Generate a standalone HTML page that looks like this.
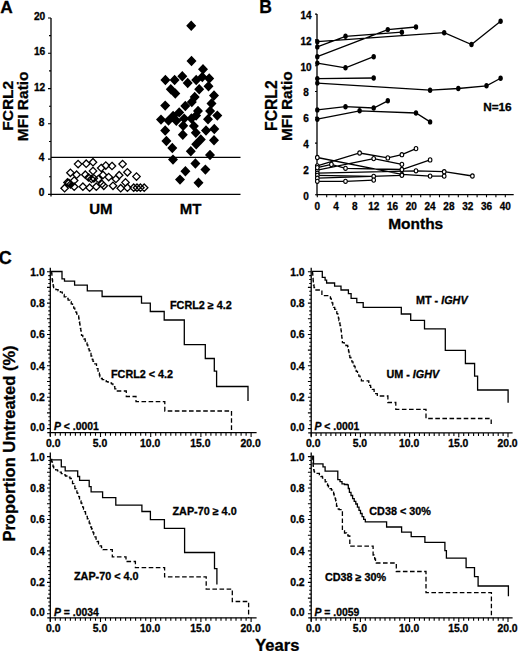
<!DOCTYPE html>
<html><head><meta charset="utf-8"><style>
html,body{margin:0;padding:0;background:#fff;}
svg{display:block;}
text{font-family:"Liberation Sans", sans-serif;fill:#000;stroke:#000;stroke-width:0.3px;}
</style></head><body>
<svg width="520" height="651" viewBox="0 0 520 651">
<rect width="520" height="651" fill="#fff"/>
<text x="0.2" y="12.7" font-size="17.3" font-weight="bold" font-style="normal" text-anchor="start" >A</text>
<text transform="translate(13.3,105.8) rotate(-90)" font-size="15.5" font-weight="bold" text-anchor="middle">FCRL2</text>
<text transform="translate(28.4,106.3) rotate(-90)" font-size="15.5" font-weight="bold" text-anchor="middle">MFI Ratio</text>
<path d="M51.0,18.0 V196.4 M50.4,194.4 H240.5" stroke="#000" stroke-width="1.3" fill="none"/>
<path d="M48.0,194.4 H51.0 M49.0,176.8 H51.0 M48.0,159.1 H51.0 M49.0,141.5 H51.0 M48.0,123.8 H51.0 M49.0,106.2 H51.0 M48.0,88.6 H51.0 M49.0,70.9 H51.0 M48.0,53.3 H51.0 M49.0,35.6 H51.0 M48.0,18.0 H51.0" stroke="#000" stroke-width="1.1" fill="none"/>
<text x="44.4" y="196.3" font-size="10.2" font-weight="bold" font-style="normal" text-anchor="end" >0</text>
<text x="44.4" y="161.0" font-size="10.2" font-weight="bold" font-style="normal" text-anchor="end" >4</text>
<text x="44.4" y="125.7" font-size="10.2" font-weight="bold" font-style="normal" text-anchor="end" >8</text>
<text x="45.3" y="90.5" font-size="10.2" font-weight="bold" font-style="normal" text-anchor="end" >12</text>
<text x="45.3" y="55.2" font-size="10.2" font-weight="bold" font-style="normal" text-anchor="end" >16</text>
<text x="45.3" y="19.9" font-size="10.2" font-weight="bold" font-style="normal" text-anchor="end" >20</text>
<path d="M51.0,157.4 H240.5" stroke="#000" stroke-width="1.3" fill="none"/>
<text x="100.8" y="213.8" font-size="15" font-weight="bold" font-style="normal" text-anchor="middle" >UM</text>
<text x="190.6" y="214.2" font-size="15" font-weight="bold" font-style="normal" text-anchor="middle" >MT</text>
<path d="M78.1,160.4 L81.8,164.1 L78.1,167.8 L74.4,164.1 Z M86.2,160.0 L90.0,163.7 L86.2,167.4 L82.5,163.7 Z M93.0,158.5 L96.7,162.2 L93.0,165.9 L89.3,162.2 Z M70.4,169.1 L74.1,172.8 L70.4,176.5 L66.7,172.8 Z M76.6,171.0 L80.3,174.7 L76.6,178.4 L72.9,174.7 Z M85.3,171.0 L89.0,174.7 L85.3,178.4 L81.6,174.7 Z M93.0,167.2 L96.7,170.9 L93.0,174.6 L89.3,170.9 Z M101.2,164.3 L104.9,168.0 L101.2,171.7 L97.5,168.0 Z M74.2,176.8 L77.9,180.5 L74.2,184.2 L70.5,180.5 Z M64.6,184.5 L68.3,188.2 L64.6,191.9 L60.9,188.2 Z M82.9,183.0 L86.6,186.7 L82.9,190.4 L79.2,186.7 Z M89.6,184.0 L93.3,187.7 L89.6,191.4 L85.9,187.7 Z M96.3,183.0 L100.0,186.7 L96.3,190.4 L92.6,186.7 Z M67.5,178.7 L71.2,182.4 L67.5,186.1 L63.8,182.4 Z M74.2,183.0 L77.9,186.7 L74.2,190.4 L70.5,186.7 Z M91.5,175.3 L95.2,179.0 L91.5,182.7 L87.8,179.0 Z M98.3,175.3 L102.0,179.0 L98.3,182.7 L94.6,179.0 Z M102.0,180.3 L105.7,184.0 L102.0,187.7 L98.3,184.0 Z M103.0,171.3 L106.7,175.0 L103.0,178.7 L99.3,175.0 Z M105.8,161.9 L109.5,165.6 L105.8,169.3 L102.1,165.6 Z M112.0,162.3 L115.7,166.0 L112.0,169.7 L108.3,166.0 Z M122.6,160.4 L126.3,164.1 L122.6,167.8 L118.9,164.1 Z M127.4,168.6 L131.1,172.3 L127.4,176.0 L123.7,172.3 Z M136.5,172.9 L140.2,176.6 L136.5,180.3 L132.8,176.6 Z M108.7,173.4 L112.4,177.1 L108.7,180.8 L105.0,177.1 Z M119.2,171.5 L122.9,175.2 L119.2,178.9 L115.5,175.2 Z M115.9,175.3 L119.6,179.0 L115.9,182.7 L112.2,179.0 Z M125.5,178.7 L129.2,182.4 L125.5,186.1 L121.8,182.4 Z M103.8,182.1 L107.5,185.8 L103.8,189.5 L100.1,185.8 Z M113.0,182.1 L116.7,185.8 L113.0,189.5 L109.3,185.8 Z M120.7,184.5 L124.4,188.2 L120.7,191.9 L117.0,188.2 Z M127.4,184.0 L131.1,187.7 L127.4,191.4 L123.7,187.7 Z M133.7,184.0 L137.4,187.7 L133.7,191.4 L130.0,187.7 Z M137.0,184.0 L140.7,187.7 L137.0,191.4 L133.3,187.7 Z M140.4,184.0 L144.1,187.7 L140.4,191.4 L136.7,187.7 Z M144.2,184.0 L147.9,187.7 L144.2,191.4 L140.5,187.7 Z M88.5,173.8 L92.2,177.5 L88.5,181.2 L84.8,177.5 Z M70.5,180.8 L74.2,184.5 L70.5,188.2 L66.8,184.5 Z M68.8,179.3 L72.5,183.0 L68.8,186.7 L65.1,183.0 Z M93.8,174.6 L97.5,178.3 L93.8,182.0 L90.1,178.3 Z" fill="#fff" stroke="#000" stroke-width="1.3"/>
<path d="M191.2,20.6 L196.2,25.8 L191.2,31.0 L186.2,25.8 Z M191.5,55.8 L196.5,61.0 L191.5,66.2 L186.5,61.0 Z M203.0,64.1 L208.0,69.3 L203.0,74.5 L198.0,69.3 Z M165.4,74.8 L170.4,80.0 L165.4,85.2 L160.4,80.0 Z M174.6,74.8 L179.6,80.0 L174.6,85.2 L169.6,80.0 Z M182.3,71.0 L187.3,76.2 L182.3,81.4 L177.3,76.2 Z M187.7,77.8 L192.7,83.0 L187.7,88.2 L182.7,83.0 Z M196.2,74.8 L201.2,80.0 L196.2,85.2 L191.2,80.0 Z M202.3,71.8 L207.3,77.0 L202.3,82.2 L197.3,77.0 Z M209.2,73.3 L214.2,78.5 L209.2,83.7 L204.2,78.5 Z M170.8,84.0 L175.8,89.2 L170.8,94.4 L165.8,89.2 Z M175.3,88.3 L180.3,93.5 L175.3,98.7 L170.3,93.5 Z M199.2,84.0 L204.2,89.2 L199.2,94.4 L194.2,89.2 Z M208.5,81.0 L213.5,86.2 L208.5,91.4 L203.5,86.2 Z M214.0,90.3 L219.0,95.5 L214.0,100.7 L209.0,95.5 Z M194.7,91.8 L199.7,97.0 L194.7,102.2 L189.7,97.0 Z M191.8,96.8 L196.8,102.0 L191.8,107.2 L186.8,102.0 Z M185.3,100.8 L190.3,106.0 L185.3,111.2 L180.3,106.0 Z M165.2,100.4 L170.2,105.6 L165.2,110.8 L160.2,105.6 Z M211.5,98.3 L216.5,103.5 L211.5,108.7 L206.5,103.5 Z M198.0,105.8 L203.0,111.0 L198.0,116.2 L193.0,111.0 Z M210.1,105.8 L215.1,111.0 L210.1,116.2 L205.1,111.0 Z M217.3,110.4 L222.3,115.6 L217.3,120.8 L212.3,115.6 Z M179.2,107.2 L184.2,112.4 L179.2,117.6 L174.2,112.4 Z M173.1,110.8 L178.1,116.0 L173.1,121.2 L168.1,116.0 Z M161.0,114.4 L166.0,119.6 L161.0,124.8 L156.0,119.6 Z M168.5,115.4 L173.5,120.6 L168.5,125.8 L163.5,120.6 Z M176.3,115.5 L181.3,120.7 L176.3,125.9 L171.3,120.7 Z M184.2,113.4 L189.2,118.6 L184.2,123.8 L179.2,118.6 Z M191.4,113.3 L196.4,118.5 L191.4,123.7 L186.4,118.5 Z M196.1,110.4 L201.1,115.6 L196.1,120.8 L191.1,115.6 Z M208.0,114.0 L213.0,119.2 L208.0,124.4 L203.0,119.2 Z M183.2,120.5 L188.2,125.7 L183.2,130.9 L178.2,125.7 Z M193.9,120.9 L198.9,126.1 L193.9,131.3 L188.9,126.1 Z M165.2,125.3 L170.2,130.5 L165.2,135.7 L160.2,130.5 Z M182.8,129.6 L187.8,134.8 L182.8,140.0 L177.8,134.8 Z M195.8,127.5 L200.8,132.7 L195.8,137.9 L190.8,132.7 Z M206.0,125.3 L211.0,130.5 L206.0,135.7 L201.0,130.5 Z M214.3,123.8 L219.3,129.0 L214.3,134.2 L209.3,129.0 Z M166.4,135.8 L171.4,141.0 L166.4,146.2 L161.4,141.0 Z M200.8,134.3 L205.8,139.5 L200.8,144.7 L195.8,139.5 Z M214.0,135.1 L219.0,140.3 L214.0,145.5 L209.0,140.3 Z M196.2,139.0 L201.2,144.2 L196.2,149.4 L191.2,144.2 Z M172.3,142.8 L177.3,148.0 L172.3,153.2 L167.3,148.0 Z M190.8,146.0 L195.8,151.2 L190.8,156.4 L185.8,151.2 Z M210.0,149.8 L215.0,155.0 L210.0,160.2 L205.0,155.0 Z M173.0,154.4 L178.0,159.6 L173.0,164.8 L168.0,159.6 Z M195.4,158.3 L200.4,163.5 L195.4,168.7 L190.4,163.5 Z M185.4,166.0 L190.4,171.2 L185.4,176.4 L180.4,171.2 Z M205.4,164.4 L210.4,169.6 L205.4,174.8 L200.4,169.6 Z M180.0,174.4 L185.0,179.6 L180.0,184.8 L175.0,179.6 Z M198.5,177.5 L203.5,182.7 L198.5,187.9 L193.5,182.7 Z" fill="#000"/>
<text x="259.2" y="12.7" font-size="17.5" font-weight="bold" font-style="normal" text-anchor="start" >B</text>
<text transform="translate(277.4,105.6) rotate(-90)" font-size="15.7" font-weight="bold" text-anchor="middle">FCRL2</text>
<text transform="translate(292.1,106.2) rotate(-90)" font-size="15.5" font-weight="bold" text-anchor="middle">MFI Ratio</text>
<path d="M317.0,14.099999999999994 V195.5 M316.5,194.7 H513.7" stroke="#000" stroke-width="1.3" fill="none"/>
<path d="M315.0,194.7 H317.0 M315.0,168.9 H317.0 M315.0,143.1 H317.0 M315.0,117.3 H317.0 M315.0,91.5 H317.0 M315.0,65.7 H317.0 M315.0,39.9 H317.0 M315.0,14.1 H317.0 M317.3,194.7 V197.3 M326.7,194.7 V197.3 M336.1,194.7 V197.3 M345.5,194.7 V197.3 M354.9,194.7 V197.3 M364.3,194.7 V197.3 M373.7,194.7 V197.3 M383.1,194.7 V197.3 M392.5,194.7 V197.3 M401.9,194.7 V197.3 M411.3,194.7 V197.3 M420.7,194.7 V197.3 M430.1,194.7 V197.3 M439.5,194.7 V197.3 M448.9,194.7 V197.3 M458.3,194.7 V197.3 M467.7,194.7 V197.3 M477.1,194.7 V197.3 M486.5,194.7 V197.3 M495.9,194.7 V197.3 M505.3,194.7 V197.3" stroke="#000" stroke-width="1.1" fill="none"/>
<text x="306" y="199.5" font-size="10" font-weight="bold" font-style="normal" text-anchor="middle" >0</text>
<text x="306" y="173.7" font-size="10" font-weight="bold" font-style="normal" text-anchor="middle" >2</text>
<text x="306" y="147.9" font-size="10" font-weight="bold" font-style="normal" text-anchor="middle" >4</text>
<text x="306" y="122.1" font-size="10" font-weight="bold" font-style="normal" text-anchor="middle" >6</text>
<text x="306" y="96.3" font-size="10" font-weight="bold" font-style="normal" text-anchor="middle" >8</text>
<text x="306" y="70.5" font-size="10" font-weight="bold" font-style="normal" text-anchor="middle" >10</text>
<text x="306" y="44.7" font-size="10" font-weight="bold" font-style="normal" text-anchor="middle" >12</text>
<text x="306" y="18.9" font-size="10" font-weight="bold" font-style="normal" text-anchor="middle" >14</text>
<text x="317.3" y="209.5" font-size="10" font-weight="bold" font-style="normal" text-anchor="middle" >0</text>
<text x="336.1" y="209.5" font-size="10" font-weight="bold" font-style="normal" text-anchor="middle" >4</text>
<text x="354.9" y="209.5" font-size="10" font-weight="bold" font-style="normal" text-anchor="middle" >8</text>
<text x="373.7" y="209.5" font-size="10" font-weight="bold" font-style="normal" text-anchor="middle" >12</text>
<text x="392.5" y="209.5" font-size="10" font-weight="bold" font-style="normal" text-anchor="middle" >16</text>
<text x="411.3" y="209.5" font-size="10" font-weight="bold" font-style="normal" text-anchor="middle" >20</text>
<text x="430.1" y="209.5" font-size="10" font-weight="bold" font-style="normal" text-anchor="middle" >24</text>
<text x="448.9" y="209.5" font-size="10" font-weight="bold" font-style="normal" text-anchor="middle" >28</text>
<text x="467.7" y="209.5" font-size="10" font-weight="bold" font-style="normal" text-anchor="middle" >32</text>
<text x="486.5" y="209.5" font-size="10" font-weight="bold" font-style="normal" text-anchor="middle" >36</text>
<text x="505.3" y="209.5" font-size="10" font-weight="bold" font-style="normal" text-anchor="middle" >40</text>
<text x="415.7" y="229.3" font-size="15.5" font-weight="bold" font-style="normal" text-anchor="middle" >Months</text>
<text x="497.4" y="110.9" font-size="11.8" font-weight="bold" font-style="normal" text-anchor="middle" >N=16</text>
<path d="M317.3,41.7 L444.2,32.7 L471.5,44.5 L500.6,21.2 M317.3,46.9 L345.5,36.3 L401.9,32.2 M317.3,56.7 L387.8,29.6 L416.0,27.0 M317.3,63.1 L345.5,67.8 L373.7,56.7 M317.3,78.6 L373.7,78.0 M317.3,83.1 L430.1,90.2 L458.3,88.5 L486.5,85.8 L500.6,78.3 M317.3,109.9 L345.5,106.7 L373.7,108.0 L387.8,100.8 M317.3,119.2 L359.6,110.8 L416.0,113.0 L430.1,121.9 M317.3,165.9 L359.6,153.0 L387.8,157.9 L401.9,154.7 L416.0,148.6 M317.3,170.1 L373.7,158.6 L401.9,164.3 M317.3,157.5 L401.9,174.3 L430.1,176.1 L444.2,176.1 M317.3,167.6 L331.4,164.4 L345.5,168.3 L401.9,169.5 L430.1,159.9 M317.3,173.2 L416.0,170.8 L444.2,171.7 L472.4,176.0 M317.3,175.3 L373.7,176.3 M317.3,178.2 L401.9,175.3 M317.3,181.3 L345.5,181.3 L373.7,180.1" stroke="#000" stroke-width="1.3" fill="none"/>
<ellipse cx="317.3" cy="41.7" rx="2.2" ry="2.7" fill="#000"/><ellipse cx="444.2" cy="32.7" rx="2.2" ry="2.7" fill="#000"/><ellipse cx="471.5" cy="44.5" rx="2.2" ry="2.7" fill="#000"/><ellipse cx="500.6" cy="21.2" rx="2.2" ry="2.7" fill="#000"/><ellipse cx="317.3" cy="46.9" rx="2.2" ry="2.7" fill="#000"/><ellipse cx="345.5" cy="36.3" rx="2.2" ry="2.7" fill="#000"/><ellipse cx="401.9" cy="32.2" rx="2.2" ry="2.7" fill="#000"/><ellipse cx="317.3" cy="56.7" rx="2.2" ry="2.7" fill="#000"/><ellipse cx="387.8" cy="29.6" rx="2.2" ry="2.7" fill="#000"/><ellipse cx="416.0" cy="27.0" rx="2.2" ry="2.7" fill="#000"/><ellipse cx="317.3" cy="63.1" rx="2.2" ry="2.7" fill="#000"/><ellipse cx="345.5" cy="67.8" rx="2.2" ry="2.7" fill="#000"/><ellipse cx="373.7" cy="56.7" rx="2.2" ry="2.7" fill="#000"/><ellipse cx="317.3" cy="78.6" rx="2.2" ry="2.7" fill="#000"/><ellipse cx="373.7" cy="78.0" rx="2.2" ry="2.7" fill="#000"/><ellipse cx="317.3" cy="83.1" rx="2.2" ry="2.7" fill="#000"/><ellipse cx="430.1" cy="90.2" rx="2.2" ry="2.7" fill="#000"/><ellipse cx="458.3" cy="88.5" rx="2.2" ry="2.7" fill="#000"/><ellipse cx="486.5" cy="85.8" rx="2.2" ry="2.7" fill="#000"/><ellipse cx="500.6" cy="78.3" rx="2.2" ry="2.7" fill="#000"/><ellipse cx="317.3" cy="109.9" rx="2.2" ry="2.7" fill="#000"/><ellipse cx="345.5" cy="106.7" rx="2.2" ry="2.7" fill="#000"/><ellipse cx="373.7" cy="108.0" rx="2.2" ry="2.7" fill="#000"/><ellipse cx="387.8" cy="100.8" rx="2.2" ry="2.7" fill="#000"/><ellipse cx="317.3" cy="119.2" rx="2.2" ry="2.7" fill="#000"/><ellipse cx="359.6" cy="110.8" rx="2.2" ry="2.7" fill="#000"/><ellipse cx="416.0" cy="113.0" rx="2.2" ry="2.7" fill="#000"/><ellipse cx="430.1" cy="121.9" rx="2.2" ry="2.7" fill="#000"/>
<ellipse cx="317.3" cy="165.9" rx="1.8" ry="2.1" fill="#fff" stroke="#000" stroke-width="1.1"/><ellipse cx="359.6" cy="153.0" rx="1.8" ry="2.1" fill="#fff" stroke="#000" stroke-width="1.1"/><ellipse cx="387.8" cy="157.9" rx="1.8" ry="2.1" fill="#fff" stroke="#000" stroke-width="1.1"/><ellipse cx="401.9" cy="154.7" rx="1.8" ry="2.1" fill="#fff" stroke="#000" stroke-width="1.1"/><ellipse cx="416.0" cy="148.6" rx="1.8" ry="2.1" fill="#fff" stroke="#000" stroke-width="1.1"/><ellipse cx="317.3" cy="170.1" rx="1.8" ry="2.1" fill="#fff" stroke="#000" stroke-width="1.1"/><ellipse cx="373.7" cy="158.6" rx="1.8" ry="2.1" fill="#fff" stroke="#000" stroke-width="1.1"/><ellipse cx="401.9" cy="164.3" rx="1.8" ry="2.1" fill="#fff" stroke="#000" stroke-width="1.1"/><ellipse cx="317.3" cy="157.5" rx="1.8" ry="2.1" fill="#fff" stroke="#000" stroke-width="1.1"/><ellipse cx="401.9" cy="174.3" rx="1.8" ry="2.1" fill="#fff" stroke="#000" stroke-width="1.1"/><ellipse cx="430.1" cy="176.1" rx="1.8" ry="2.1" fill="#fff" stroke="#000" stroke-width="1.1"/><ellipse cx="444.2" cy="176.1" rx="1.8" ry="2.1" fill="#fff" stroke="#000" stroke-width="1.1"/><ellipse cx="317.3" cy="167.6" rx="1.8" ry="2.1" fill="#fff" stroke="#000" stroke-width="1.1"/><ellipse cx="331.4" cy="164.4" rx="1.8" ry="2.1" fill="#fff" stroke="#000" stroke-width="1.1"/><ellipse cx="345.5" cy="168.3" rx="1.8" ry="2.1" fill="#fff" stroke="#000" stroke-width="1.1"/><ellipse cx="401.9" cy="169.5" rx="1.8" ry="2.1" fill="#fff" stroke="#000" stroke-width="1.1"/><ellipse cx="430.1" cy="159.9" rx="1.8" ry="2.1" fill="#fff" stroke="#000" stroke-width="1.1"/><ellipse cx="317.3" cy="173.2" rx="1.8" ry="2.1" fill="#fff" stroke="#000" stroke-width="1.1"/><ellipse cx="416.0" cy="170.8" rx="1.8" ry="2.1" fill="#fff" stroke="#000" stroke-width="1.1"/><ellipse cx="444.2" cy="171.7" rx="1.8" ry="2.1" fill="#fff" stroke="#000" stroke-width="1.1"/><ellipse cx="472.4" cy="176.0" rx="1.8" ry="2.1" fill="#fff" stroke="#000" stroke-width="1.1"/><ellipse cx="317.3" cy="175.3" rx="1.8" ry="2.1" fill="#fff" stroke="#000" stroke-width="1.1"/><ellipse cx="373.7" cy="176.3" rx="1.8" ry="2.1" fill="#fff" stroke="#000" stroke-width="1.1"/><ellipse cx="317.3" cy="178.2" rx="1.8" ry="2.1" fill="#fff" stroke="#000" stroke-width="1.1"/><ellipse cx="401.9" cy="175.3" rx="1.8" ry="2.1" fill="#fff" stroke="#000" stroke-width="1.1"/><ellipse cx="317.3" cy="181.3" rx="1.8" ry="2.1" fill="#fff" stroke="#000" stroke-width="1.1"/><ellipse cx="345.5" cy="181.3" rx="1.8" ry="2.1" fill="#fff" stroke="#000" stroke-width="1.1"/><ellipse cx="373.7" cy="180.1" rx="1.8" ry="2.1" fill="#fff" stroke="#000" stroke-width="1.1"/>
<text x="-1.2" y="264.4" font-size="18" font-weight="bold" font-style="normal" text-anchor="start" >C</text>
<text transform="translate(15.2,443.5) rotate(-90)" font-size="16.5" font-weight="bold" text-anchor="middle">Proportion Untreated (%)</text>
<path d="M50.3,267.7 V436.2 M47.3,432.7 H256.6" stroke="#000" stroke-width="1.3" fill="none"/>
<path d="M47.0,428.6 H50.3 M48.3,424.7 H50.3 M48.3,420.8 H50.3 M48.3,416.8 H50.3 M47.0,412.9 H50.3 M48.3,409.0 H50.3 M48.3,405.1 H50.3 M48.3,401.1 H50.3 M47.0,397.2 H50.3 M48.3,393.3 H50.3 M48.3,389.4 H50.3 M48.3,385.5 H50.3 M47.0,381.5 H50.3 M48.3,377.6 H50.3 M48.3,373.7 H50.3 M48.3,369.8 H50.3 M47.0,365.8 H50.3 M48.3,361.9 H50.3 M48.3,358.0 H50.3 M48.3,354.1 H50.3 M47.0,350.1 H50.3 M48.3,346.2 H50.3 M48.3,342.3 H50.3 M48.3,338.4 H50.3 M47.0,334.5 H50.3 M48.3,330.5 H50.3 M48.3,326.6 H50.3 M48.3,322.7 H50.3 M47.0,318.8 H50.3 M48.3,314.8 H50.3 M48.3,310.9 H50.3 M48.3,307.0 H50.3 M47.0,303.1 H50.3 M48.3,299.2 H50.3 M48.3,295.2 H50.3 M48.3,291.3 H50.3 M47.0,287.4 H50.3 M48.3,283.5 H50.3 M48.3,279.5 H50.3 M48.3,275.6 H50.3 M47.0,271.7 H50.3 M50.3,432.7 V437.0 M55.3,432.7 V435.7 M60.3,432.7 V435.7 M65.4,432.7 V435.7 M70.4,432.7 V435.7 M75.4,432.7 V435.7 M80.4,432.7 V435.7 M85.4,432.7 V435.7 M90.5,432.7 V435.7 M95.5,432.7 V435.7 M100.5,432.7 V437.0 M105.5,432.7 V435.7 M110.5,432.7 V435.7 M115.6,432.7 V435.7 M120.6,432.7 V435.7 M125.6,432.7 V435.7 M130.6,432.7 V435.7 M135.6,432.7 V435.7 M140.7,432.7 V435.7 M145.7,432.7 V435.7 M150.7,432.7 V437.0 M155.7,432.7 V435.7 M160.7,432.7 V435.7 M165.8,432.7 V435.7 M170.8,432.7 V435.7 M175.8,432.7 V435.7 M180.8,432.7 V435.7 M185.8,432.7 V435.7 M190.9,432.7 V435.7 M195.9,432.7 V435.7 M200.9,432.7 V437.0 M205.9,432.7 V435.7 M210.9,432.7 V435.7 M216.0,432.7 V435.7 M221.0,432.7 V435.7 M226.0,432.7 V435.7 M231.0,432.7 V435.7 M236.0,432.7 V435.7 M241.1,432.7 V435.7 M246.1,432.7 V435.7 M251.1,432.7 V437.0" stroke="#000" stroke-width="1.1" fill="none"/>
<text x="44.8" y="431.1" font-size="10.4" font-weight="bold" font-style="normal" text-anchor="end" >0.0</text>
<text x="44.8" y="401.1" font-size="10.4" font-weight="bold" font-style="normal" text-anchor="end" >0.2</text>
<text x="44.8" y="369.7" font-size="10.4" font-weight="bold" font-style="normal" text-anchor="end" >0.4</text>
<text x="44.8" y="338.4" font-size="10.4" font-weight="bold" font-style="normal" text-anchor="end" >0.6</text>
<text x="44.8" y="307.0" font-size="10.4" font-weight="bold" font-style="normal" text-anchor="end" >0.8</text>
<text x="44.8" y="275.6" font-size="10.4" font-weight="bold" font-style="normal" text-anchor="end" >1.0</text>
<text x="53.3" y="446.6" font-size="10.4" font-weight="bold" font-style="normal" text-anchor="middle" >0.0</text>
<text x="100.0" y="446.6" font-size="10.4" font-weight="bold" font-style="normal" text-anchor="middle" >5.0</text>
<text x="150.2" y="446.6" font-size="10.4" font-weight="bold" font-style="normal" text-anchor="middle" >10.0</text>
<text x="200.4" y="446.6" font-size="10.4" font-weight="bold" font-style="normal" text-anchor="middle" >15.0</text>
<text x="250.6" y="446.6" font-size="10.4" font-weight="bold" font-style="normal" text-anchor="middle" >20.0</text>
<path d="M311.2,267.7 V436.4 M308.2,432.9 H512.6" stroke="#000" stroke-width="1.3" fill="none"/>
<path d="M307.9,428.6 H311.2 M309.2,424.7 H311.2 M309.2,420.8 H311.2 M309.2,416.8 H311.2 M307.9,412.9 H311.2 M309.2,409.0 H311.2 M309.2,405.1 H311.2 M309.2,401.1 H311.2 M307.9,397.2 H311.2 M309.2,393.3 H311.2 M309.2,389.4 H311.2 M309.2,385.5 H311.2 M307.9,381.5 H311.2 M309.2,377.6 H311.2 M309.2,373.7 H311.2 M309.2,369.8 H311.2 M307.9,365.8 H311.2 M309.2,361.9 H311.2 M309.2,358.0 H311.2 M309.2,354.1 H311.2 M307.9,350.1 H311.2 M309.2,346.2 H311.2 M309.2,342.3 H311.2 M309.2,338.4 H311.2 M307.9,334.5 H311.2 M309.2,330.5 H311.2 M309.2,326.6 H311.2 M309.2,322.7 H311.2 M307.9,318.8 H311.2 M309.2,314.8 H311.2 M309.2,310.9 H311.2 M309.2,307.0 H311.2 M307.9,303.1 H311.2 M309.2,299.2 H311.2 M309.2,295.2 H311.2 M309.2,291.3 H311.2 M307.9,287.4 H311.2 M309.2,283.5 H311.2 M309.2,279.5 H311.2 M309.2,275.6 H311.2 M307.9,271.7 H311.2 M311.2,432.9 V437.2 M316.1,432.9 V435.9 M321.0,432.9 V435.9 M326.0,432.9 V435.9 M330.9,432.9 V435.9 M335.8,432.9 V435.9 M340.7,432.9 V435.9 M345.6,432.9 V435.9 M350.6,432.9 V435.9 M355.5,432.9 V435.9 M360.4,432.9 V437.2 M365.3,432.9 V435.9 M370.2,432.9 V435.9 M375.2,432.9 V435.9 M380.1,432.9 V435.9 M385.0,432.9 V435.9 M389.9,432.9 V435.9 M394.8,432.9 V435.9 M399.8,432.9 V435.9 M404.7,432.9 V435.9 M409.6,432.9 V437.2 M414.5,432.9 V435.9 M419.4,432.9 V435.9 M424.4,432.9 V435.9 M429.3,432.9 V435.9 M434.2,432.9 V435.9 M439.1,432.9 V435.9 M444.0,432.9 V435.9 M449.0,432.9 V435.9 M453.9,432.9 V435.9 M458.8,432.9 V437.2 M463.7,432.9 V435.9 M468.6,432.9 V435.9 M473.6,432.9 V435.9 M478.5,432.9 V435.9 M483.4,432.9 V435.9 M488.3,432.9 V435.9 M493.2,432.9 V435.9 M498.2,432.9 V435.9 M503.1,432.9 V435.9 M508.0,432.9 V437.2" stroke="#000" stroke-width="1.1" fill="none"/>
<text x="304.6" y="431.1" font-size="10.4" font-weight="bold" font-style="normal" text-anchor="end" >0.0</text>
<text x="304.6" y="401.1" font-size="10.4" font-weight="bold" font-style="normal" text-anchor="end" >0.2</text>
<text x="304.6" y="369.7" font-size="10.4" font-weight="bold" font-style="normal" text-anchor="end" >0.4</text>
<text x="304.6" y="338.4" font-size="10.4" font-weight="bold" font-style="normal" text-anchor="end" >0.6</text>
<text x="304.6" y="307.0" font-size="10.4" font-weight="bold" font-style="normal" text-anchor="end" >0.8</text>
<text x="304.6" y="275.6" font-size="10.4" font-weight="bold" font-style="normal" text-anchor="end" >1.0</text>
<text x="313.2" y="446.6" font-size="10.4" font-weight="bold" font-style="normal" text-anchor="middle" >0.0</text>
<text x="359.9" y="446.6" font-size="10.4" font-weight="bold" font-style="normal" text-anchor="middle" >5.0</text>
<text x="409.1" y="446.6" font-size="10.4" font-weight="bold" font-style="normal" text-anchor="middle" >10.0</text>
<text x="458.3" y="446.6" font-size="10.4" font-weight="bold" font-style="normal" text-anchor="middle" >15.0</text>
<text x="507.5" y="446.6" font-size="10.4" font-weight="bold" font-style="normal" text-anchor="middle" >20.0</text>
<path d="M50.3,452.6 V621.3 M47.3,617.8 H256.6" stroke="#000" stroke-width="1.3" fill="none"/>
<path d="M47.0,613.8 H50.3 M48.3,609.9 H50.3 M48.3,605.9 H50.3 M48.3,602.0 H50.3 M47.0,598.1 H50.3 M48.3,594.1 H50.3 M48.3,590.2 H50.3 M48.3,586.3 H50.3 M47.0,582.4 H50.3 M48.3,578.4 H50.3 M48.3,574.5 H50.3 M48.3,570.6 H50.3 M47.0,566.6 H50.3 M48.3,562.7 H50.3 M48.3,558.8 H50.3 M48.3,554.9 H50.3 M47.0,550.9 H50.3 M48.3,547.0 H50.3 M48.3,543.1 H50.3 M48.3,539.1 H50.3 M47.0,535.2 H50.3 M48.3,531.3 H50.3 M48.3,527.3 H50.3 M48.3,523.4 H50.3 M47.0,519.5 H50.3 M48.3,515.5 H50.3 M48.3,511.6 H50.3 M48.3,507.7 H50.3 M47.0,503.8 H50.3 M48.3,499.8 H50.3 M48.3,495.9 H50.3 M48.3,492.0 H50.3 M47.0,488.0 H50.3 M48.3,484.1 H50.3 M48.3,480.2 H50.3 M48.3,476.2 H50.3 M47.0,472.3 H50.3 M48.3,468.4 H50.3 M48.3,464.5 H50.3 M48.3,460.5 H50.3 M47.0,456.6 H50.3 M50.3,617.8 V622.0999999999999 M55.3,617.8 V620.8 M60.3,617.8 V620.8 M65.4,617.8 V620.8 M70.4,617.8 V620.8 M75.4,617.8 V620.8 M80.4,617.8 V620.8 M85.4,617.8 V620.8 M90.5,617.8 V620.8 M95.5,617.8 V620.8 M100.5,617.8 V622.0999999999999 M105.5,617.8 V620.8 M110.5,617.8 V620.8 M115.6,617.8 V620.8 M120.6,617.8 V620.8 M125.6,617.8 V620.8 M130.6,617.8 V620.8 M135.6,617.8 V620.8 M140.7,617.8 V620.8 M145.7,617.8 V620.8 M150.7,617.8 V622.0999999999999 M155.7,617.8 V620.8 M160.7,617.8 V620.8 M165.8,617.8 V620.8 M170.8,617.8 V620.8 M175.8,617.8 V620.8 M180.8,617.8 V620.8 M185.8,617.8 V620.8 M190.9,617.8 V620.8 M195.9,617.8 V620.8 M200.9,617.8 V622.0999999999999 M205.9,617.8 V620.8 M210.9,617.8 V620.8 M216.0,617.8 V620.8 M221.0,617.8 V620.8 M226.0,617.8 V620.8 M231.0,617.8 V620.8 M236.0,617.8 V620.8 M241.1,617.8 V620.8 M246.1,617.8 V620.8 M251.1,617.8 V622.0999999999999" stroke="#000" stroke-width="1.1" fill="none"/>
<text x="44.8" y="616.3" font-size="10.4" font-weight="bold" font-style="normal" text-anchor="end" >0.0</text>
<text x="44.8" y="586.3" font-size="10.4" font-weight="bold" font-style="normal" text-anchor="end" >0.2</text>
<text x="44.8" y="554.8" font-size="10.4" font-weight="bold" font-style="normal" text-anchor="end" >0.4</text>
<text x="44.8" y="523.4" font-size="10.4" font-weight="bold" font-style="normal" text-anchor="end" >0.6</text>
<text x="44.8" y="491.9" font-size="10.4" font-weight="bold" font-style="normal" text-anchor="end" >0.8</text>
<text x="44.8" y="460.5" font-size="10.4" font-weight="bold" font-style="normal" text-anchor="end" >1.0</text>
<text x="53.3" y="631.6" font-size="10.4" font-weight="bold" font-style="normal" text-anchor="middle" >0.0</text>
<text x="100.0" y="631.6" font-size="10.4" font-weight="bold" font-style="normal" text-anchor="middle" >5.0</text>
<text x="150.2" y="631.6" font-size="10.4" font-weight="bold" font-style="normal" text-anchor="middle" >10.0</text>
<text x="200.4" y="631.6" font-size="10.4" font-weight="bold" font-style="normal" text-anchor="middle" >15.0</text>
<text x="250.6" y="631.6" font-size="10.4" font-weight="bold" font-style="normal" text-anchor="middle" >20.0</text>
<path d="M311.2,452.6 V621.3 M308.2,617.8 H512.6" stroke="#000" stroke-width="1.3" fill="none"/>
<path d="M307.9,613.8 H311.2 M309.2,609.9 H311.2 M309.2,605.9 H311.2 M309.2,602.0 H311.2 M307.9,598.1 H311.2 M309.2,594.1 H311.2 M309.2,590.2 H311.2 M309.2,586.3 H311.2 M307.9,582.4 H311.2 M309.2,578.4 H311.2 M309.2,574.5 H311.2 M309.2,570.6 H311.2 M307.9,566.6 H311.2 M309.2,562.7 H311.2 M309.2,558.8 H311.2 M309.2,554.9 H311.2 M307.9,550.9 H311.2 M309.2,547.0 H311.2 M309.2,543.1 H311.2 M309.2,539.1 H311.2 M307.9,535.2 H311.2 M309.2,531.3 H311.2 M309.2,527.3 H311.2 M309.2,523.4 H311.2 M307.9,519.5 H311.2 M309.2,515.5 H311.2 M309.2,511.6 H311.2 M309.2,507.7 H311.2 M307.9,503.8 H311.2 M309.2,499.8 H311.2 M309.2,495.9 H311.2 M309.2,492.0 H311.2 M307.9,488.0 H311.2 M309.2,484.1 H311.2 M309.2,480.2 H311.2 M309.2,476.2 H311.2 M307.9,472.3 H311.2 M309.2,468.4 H311.2 M309.2,464.5 H311.2 M309.2,460.5 H311.2 M307.9,456.6 H311.2 M311.2,617.8 V622.0999999999999 M316.1,617.8 V620.8 M321.0,617.8 V620.8 M326.0,617.8 V620.8 M330.9,617.8 V620.8 M335.8,617.8 V620.8 M340.7,617.8 V620.8 M345.6,617.8 V620.8 M350.6,617.8 V620.8 M355.5,617.8 V620.8 M360.4,617.8 V622.0999999999999 M365.3,617.8 V620.8 M370.2,617.8 V620.8 M375.2,617.8 V620.8 M380.1,617.8 V620.8 M385.0,617.8 V620.8 M389.9,617.8 V620.8 M394.8,617.8 V620.8 M399.8,617.8 V620.8 M404.7,617.8 V620.8 M409.6,617.8 V622.0999999999999 M414.5,617.8 V620.8 M419.4,617.8 V620.8 M424.4,617.8 V620.8 M429.3,617.8 V620.8 M434.2,617.8 V620.8 M439.1,617.8 V620.8 M444.0,617.8 V620.8 M449.0,617.8 V620.8 M453.9,617.8 V620.8 M458.8,617.8 V622.0999999999999 M463.7,617.8 V620.8 M468.6,617.8 V620.8 M473.6,617.8 V620.8 M478.5,617.8 V620.8 M483.4,617.8 V620.8 M488.3,617.8 V620.8 M493.2,617.8 V620.8 M498.2,617.8 V620.8 M503.1,617.8 V620.8 M508.0,617.8 V622.0999999999999" stroke="#000" stroke-width="1.1" fill="none"/>
<text x="304.6" y="616.3" font-size="10.4" font-weight="bold" font-style="normal" text-anchor="end" >0.0</text>
<text x="304.6" y="586.3" font-size="10.4" font-weight="bold" font-style="normal" text-anchor="end" >0.2</text>
<text x="304.6" y="554.8" font-size="10.4" font-weight="bold" font-style="normal" text-anchor="end" >0.4</text>
<text x="304.6" y="523.4" font-size="10.4" font-weight="bold" font-style="normal" text-anchor="end" >0.6</text>
<text x="304.6" y="491.9" font-size="10.4" font-weight="bold" font-style="normal" text-anchor="end" >0.8</text>
<text x="304.6" y="460.5" font-size="10.4" font-weight="bold" font-style="normal" text-anchor="end" >1.0</text>
<text x="313.2" y="631.6" font-size="10.4" font-weight="bold" font-style="normal" text-anchor="middle" >0.0</text>
<text x="359.9" y="631.6" font-size="10.4" font-weight="bold" font-style="normal" text-anchor="middle" >5.0</text>
<text x="409.1" y="631.6" font-size="10.4" font-weight="bold" font-style="normal" text-anchor="middle" >10.0</text>
<text x="458.3" y="631.6" font-size="10.4" font-weight="bold" font-style="normal" text-anchor="middle" >15.0</text>
<text x="507.5" y="631.6" font-size="10.4" font-weight="bold" font-style="normal" text-anchor="middle" >20.0</text>
<path d="M50.5,271.5 H62 V278.8 H64.5 V281.1 H74.6 V285.1 H87.3 V290.8 H102.1 V296.5 H141.5 V303.2 H150.3 V311.5 H164.2 V320 H184.3 V344.7 H205.3 V358.5 H214.3 V371.2 H216.6 V386.5 H248 V401" stroke="#000" stroke-width="1.3" fill="none"/>
<path d="M51.5,271.6 H51.7 V273.7 H51.9 V275.8 H52.0 V277.9 H52.2 V280.0 H52.6 V282.1 H52.9 V284.1 H53.2 V286.2 H53.6 V288.3 H55.9 V289.6 H58.1 V290.8 H60.4 V292.1 H62.3 V294.5 H64.2 V296.9 H66.1 V298.5 H68.1 V300.1 H70.0 V301.7 H71.2 V303.9 H72.5 V306.0 H73.7 V308.2 H74.8 V310.4 H75.8 V312.2 H76.7 V314.0 H77.7 V316.0 H78.7 V318.0 H79.0 V320.0 H79.3 V322.0 H79.7 V324.0 H80.0 V326.0 H80.4 V328.4 H80.8 V330.7 H81.1 V333.0 H81.5 V335.4 H82.8 V337.2 H84.0 V339.0 H85.2 V341.0 H86.3 V343.0 H87.0 V344.9 H87.8 V346.9 H88.5 V348.9 H89.2 V350.8 H90.1 V353.4 H91.0 V356.0 H91.7 V357.8 H92.3 V359.5 H93.0 V361.3 H94.8 V363.8 H96.5 V366.3 H97.2 V368.6 H98.0 V371.0 H98.7 V373.0 H99.4 V375.0 H99.9 V376.8 H100.4 V378.5 H102.3 V379.6 H104.3 V380.6 H106.2 V381.7 H108.1 V382.4 H110.0 V383.0 H111.5 V383.8 H112.9 V384.6 H113.9 V386.7 H114.8 V388.9 H115.8 V391.0 H126.3 V396.5 H136 V401.7 H164.8 V411 H231.5 V432" stroke="#000" stroke-width="1.3" fill="none" stroke-dasharray="4.6 2.5"/>
<path d="M312,271.3 H322.3 V277.3 H325.1 V280.2 H326.6 V283 H334.6 V286.2 H341 V290 H348.4 V293.6 H351.1 V298.4 H356.8 V302.7 H363.2 V307.3 H401.3 V314 H410.7 V320.3 H424.5 V328.8 H445.3 V350.3 H465.4 V363.5 H474.6 V376.2 H477.6 V390 H508.1 V402.7" stroke="#000" stroke-width="1.3" fill="none"/>
<path d="M312.4,271.6 H312.6 V273.8 H312.8 V276.1 H312.9 V278.3 H313.1 V280.5 H313.3 V282.8 H313.5 V285.0 H314.0 V287.5 H314.5 V290.0 H321.9 V295.7 H330.4 V298.4 H331.2 V300.6 H332.0 V302.9 H332.8 V305.1 H333.6 V307.3 H334.7 V309.4 H335.7 V311.6 H336.8 V313.7 H337.8 V315.8 H338.4 V318.2 H338.9 V320.6 H339.5 V323.0 H340.0 V325.5 H340.5 V328.1 H341.0 V330.6 H341.3 V333.0 H341.6 V335.4 H341.8 V337.9 H342.1 V340.3 H342.4 V342.7 H344.2 V344.1 H345.9 V345.5 H347.7 V346.9 H348.1 V349.0 H348.5 V351.1 H349.0 V353.3 H349.4 V355.4 H349.8 V357.5 H350.9 V359.7 H351.9 V361.8 H353.0 V364.0 H354.1 V366.4 H355.1 V368.9 H356.2 V371.3 H357.5 V373.7 H358.8 V376.1 H360.1 V378.4 H361.4 V380.8 H368.8 V385.4 H370.6 V387.4 H372.3 V389.3 H374.1 V391.3 H375.7 V393.6 H377.3 V396.0 H387.9 V402.5 H395.8 V409.3 H426 V418.5 H491.2 V426" stroke="#000" stroke-width="1.3" fill="none" stroke-dasharray="4.6 2.5"/>
<path d="M51,459.8 H61.3 V466.9 H65.2 V470.8 H77.7 V476.5 H79.6 V480.4 H89.2 V486.6 H91.1 V491.9 H102.6 V497.7 H115.8 V505.1 H141.9 V511.5 H150.4 V519.6 H164.4 V528.4 H184.6 V552.5 H214.5 V568.6 H216.9 V584.6" stroke="#000" stroke-width="1.3" fill="none"/>
<path d="M51,459.5 H51.7 V461.8 H52.4 V464.1 H53.0 V466.5 H53.7 V468.8 H55.6 V469.8 H57.5 V470.8 H59.4 V472.2 H61.3 V473.7 H63.4 V474.9 H65.5 V476.0 H67.8 V477.2 H70.0 V478.5 H71.3 V481.1 H72.5 V483.6 H73.8 V486.2 H74.9 V488.6 H76.0 V491.0 H76.9 V492.9 H77.8 V494.8 H78.7 V496.7 H79.5 V498.8 H80.2 V500.9 H81.0 V503.0 H81.8 V505.1 H82.7 V507.1 H83.5 V509.2 H84.5 V511.6 H85.5 V514.0 H86.4 V516.4 H87.3 V518.8 H88.2 V521.0 H89.2 V523.1 H90.0 V525.1 H90.7 V527.0 H91.5 V529.0 H92.3 V530.9 H93.0 V532.7 H93.8 V534.6 H94.9 V536.8 H96.0 V539.0 H97.2 V541.5 H98.5 V543.9 H100.0 V545.8 H101.5 V547.7 H103.0 V549.6 H112.3 V556.9 H126 V561.5 H135.4 V567.7 H164.6 V576.9 H206.2 V589.2 H232.3 V601.5 H248.6 V617.8" stroke="#000" stroke-width="1.3" fill="none" stroke-dasharray="4.6 2.5"/>
<path d="M312.5,456.3 H313.5 V463.8 H323 V466.9 H325.1 V471.2 H337.8 V479.6 H340 V481.6 H342 V483.8 H344.5 V484.5 H347.3 V484.9 H348.3 V488.5 H349.4 V492.3 H351 V495.5 H352.6 V498.7 H354.2 V501.3 H355.8 V504 H357.4 V507.2 H359 V510.3 H360.5 V513.5 H362.1 V516.6 H363.7 V519.3 H365.3 V521.9 H386.6 V527 H401.6 V532.2 H411.2 V536.6 H424.9 V542.4 H444.9 V550.7 H446.4 V558.1 H466.1 V567.6 H474.5 V576.7 H478.1 V586 H508.4 V596.2" stroke="#000" stroke-width="1.3" fill="none"/>
<path d="M312.5,456 H312.7 V458.4 H312.8 V460.8 H313.0 V463.2 H313.1 V465.6 H313.3 V468.0 H313.7 V469.8 H314.1 V471.5 H314.5 V473.3 H317.7 V473.3 H319.4 V474.9 H321.0 V476.5 H322.5 V478.1 H324.0 V479.6 H325.2 V481.8 H326.5 V484.0 H327.5 V485.5 H328.5 V487.0 H329.9 V488.6 H331.4 V490.2 H332.5 V492.1 H333.6 V494.0 H334.2 V495.5 H334.8 V497.0 H335.2 V498.9 H335.7 V500.8 H336.1 V503.4 H336.5 V506.0 H337.0 V507.5 H337.5 V509.0 H339.2 V509.6 H341.0 V510.3 H342.4 V530.7 H344.5 V533.0 H346.5 V535.0 H348.1 V536.0 H349.8 V537.0 H349.8 V546.1 H373.1 V555 H373.9 V557.0 H374.7 V559.0 H375.5 V561.0 H376.3 V563.0 H396.3 V571.5 H426 V592.7 H491.4 V615.2" stroke="#000" stroke-width="1.3" fill="none" stroke-dasharray="4.6 2.5"/>
<text x="170" y="309.4" font-size="10.8" font-weight="bold" font-style="normal" text-anchor="start" >FCRL2 ≥ 4.2</text>
<text x="111" y="378" font-size="10.8" font-weight="bold" font-style="normal" text-anchor="start" >FCRL2 &lt; 4.2</text>
<text x="416" y="304.4" font-size="10.8" font-weight="bold" font-style="normal" text-anchor="start" >MT - <tspan font-style="italic">IGHV</tspan></text>
<text x="386.4" y="377.8" font-size="10.8" font-weight="bold" font-style="normal" text-anchor="start" >UM - <tspan font-style="italic">IGHV</tspan></text>
<text x="172.5" y="515.3" font-size="10.8" font-weight="bold" font-style="normal" text-anchor="start" >ZAP-70 ≥ 4.0</text>
<text x="74" y="580.3" font-size="10.8" font-weight="bold" font-style="normal" text-anchor="start" >ZAP-70 &lt; 4.0</text>
<text x="369.3" y="515.2" font-size="10.8" font-weight="bold" font-style="normal" text-anchor="start" >CD38 &lt; 30%</text>
<text x="325" y="581" font-size="10.8" font-weight="bold" font-style="normal" text-anchor="start" >CD38 ≥ 30%</text>
<text x="54" y="429.8" font-size="10.4" font-weight="bold" font-style="normal" text-anchor="start" ><tspan font-style="italic">P</tspan> &lt; .0001</text>
<text x="314.5" y="429.8" font-size="10.4" font-weight="bold" font-style="normal" text-anchor="start" ><tspan font-style="italic">P</tspan> &lt; .0001</text>
<text x="54" y="615.8" font-size="10.4" font-weight="bold" font-style="normal" text-anchor="start" ><tspan font-style="italic">P</tspan> = .0034</text>
<text x="314.5" y="615.8" font-size="10.4" font-weight="bold" font-style="normal" text-anchor="start" ><tspan font-style="italic">P</tspan> = .0059</text>
<text x="277.3" y="651.2" font-size="16.5" font-weight="bold" font-style="normal" text-anchor="middle" >Years</text>
</svg>
</body></html>
